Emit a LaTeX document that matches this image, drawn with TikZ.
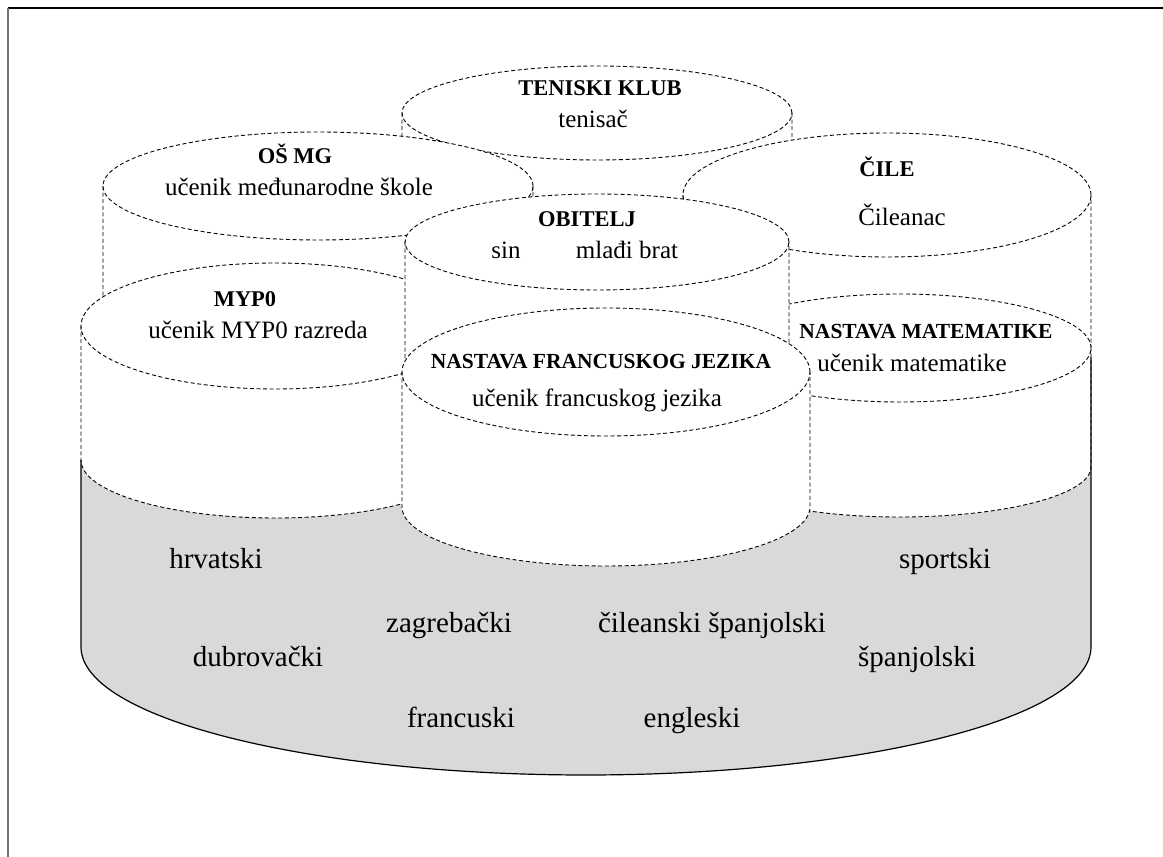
\documentclass[tikz,border=0pt]{standalone}
\usepackage{fontspec}
\setmainfont{Liberation Serif}
\begin{document}
\begin{tikzpicture}[x=1pt,y=1pt,
  hid/.style={dash pattern=on 4pt off 2.6pt, line width=0.9pt},
  rim/.style={line width=1.2pt},
  head/.style={font=\fontsize{22.5}{27}\selectfont\bfseries, inner sep=0pt, text height=0.68em, text depth=0.18em},
  headsm/.style={font=\fontsize{21.5}{26}\selectfont\bfseries, inner sep=0pt, text height=0.68em, text depth=0.18em},
  role/.style={font=\fontsize{25}{30}\selectfont, inner sep=0pt, text height=0.68em, text depth=0.18em},
  lang/.style={font=\fontsize{29}{34}\selectfont, inner sep=0pt, text height=0.68em, text depth=0.18em}]
\definecolor{basegray}{RGB}{217,217,217}
\useasboundingbox (0,0) rectangle (1163,857);

% page frame (top and left edges)
\draw[line width=1.3pt] (8,849) -- (1163,849);
\draw[line width=1.5pt, black!55] (8,849) -- (8,0);

% drum: centre x, top y, bottom y, x radius, top y radius, bottom y radius (y measured downwards)
\newcommand\drum[6]{%
  \fill[white] ({#1-#4},{857-#2}) -- ({#1-#4},{857-#3})
     arc[start angle=180,end angle=360,x radius=#4pt,y radius=#6pt]
     -- ({#1+#4},{857-#2})
     arc[start angle=0,end angle=180,x radius=#4pt,y radius=#5pt] -- cycle;
  \draw[hid] ({#1-#4},{857-#2}) -- ({#1-#4},{857-#3})
     arc[start angle=180,end angle=360,x radius=#4pt,y radius=#6pt]
     -- ({#1+#4},{857-#2});
  \draw[hid] (#1,{857-#2}) ellipse[x radius=#4pt,y radius=#5pt];
}

% grey base
\fill[basegray] (81,{857-440}) -- (81,{857-647})
   arc[start angle=180,end angle=360,x radius=505pt,y radius=128pt]
   -- (1091,{857-440}) -- cycle;

% drums, back to front
\drum{597}{113}{240}{195}{47}{47}   % teniski klub
\drum{318}{186}{330}{215}{54}{54}   % os mg
\drum{887}{195}{345}{204}{62}{62}   % cile
\drum{275}{326}{460}{194}{63}{58}   % myp0
\drum{900}{348}{467}{191}{54}{50}   % matematika
\drum{597}{242}{400}{192}{48}{48}   % obitelj
\drum{606}{372}{507}{204}{64}{59}   % francuski

% visible outline of the base
\draw[rim] (81,{857-460}) -- (81,{857-647})
   arc[start angle=180,end angle=360,x radius=505pt,y radius=128pt]
   -- (1091,{857-357});

% labels of the drums
\node[head] (tkT) at (600,{857-93}) {TENISKI KLUB};
\node[role] (tkR) at (593,{857-125}) {tenisač};
\node[head] (osT) at (295,{857-161}) {OŠ MG};
\node[role] (osR) at (299,{857-193}) {učenik međunarodne škole};
\node[head] (obT) at (587,{857-224}) {OBITELJ};
\node[role] (obR1) at (506,{857-256}) {sin};
\node[role] (obR2) at (627,{857-256}) {mlađi brat};
\node[head] (clT) at (887,{857-174}) {ČILE};
\node[role] (clR) at (902,{857-223}) {Čileanac};
\node[head] (myT) at (245,{857-304}) {MYP0};
\node[role] (myR) at (258,{857-336}) {učenik MYP0 razreda};
\node[headsm] (maT) at (926,{857-336}) {NASTAVA MATEMATIKE};
\node[role] (maR) at (912,{857-369}) {učenik matematike};
\node[headsm] (frT) at (601,{857-366}) {NASTAVA FRANCUSKOG JEZIKA};
\node[role] (frR) at (597,{857-404}) {učenik francuskog jezika};

% languages on the base
\node[lang] (l1) at (216,{857-566}) {hrvatski};
\node[lang] (l2) at (945,{857-566}) {sportski};
\node[lang] (l3) at (449,{857-630}) {zagrebački};
\node[lang] (l4) at (712,{857-630}) {čileanski španjolski};
\node[lang] (l5) at (258,{857-664}) {dubrovački};
\node[lang] (l6) at (917,{857-664}) {španjolski};
\node[lang] (l7) at (461,{857-725}) {francuski};
\node[lang] (l8) at (692,{857-725}) {engleski};
\end{tikzpicture}
\end{document}
